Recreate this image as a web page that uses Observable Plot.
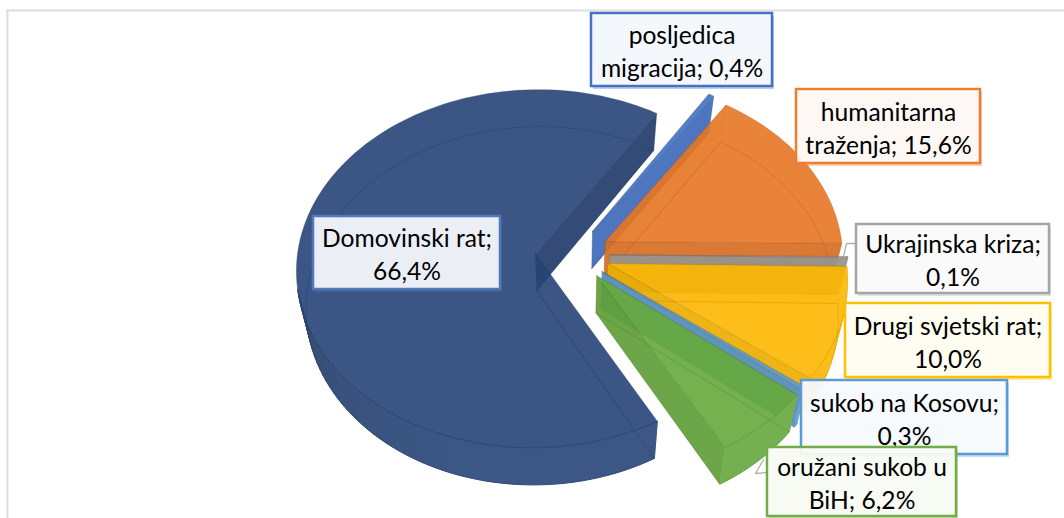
<!DOCTYPE html>
<html><head><meta charset="utf-8">
<script src="https://cdn.jsdelivr.net/npm/d3@7"></script>
<script src="https://cdn.jsdelivr.net/npm/@observablehq/plot@0.6"></script>
<style>
html,body{margin:0;padding:0;background:#fff;overflow:hidden}
g[aria-label="shadow"]{filter:blur(2.5px)}
</style></head><body><div id="chart"></div>
<script>
// Data, in the drawing order of the pie (clockwise)
const categories = ["Domovinski rat","posljedica migracija","humanitarna traženja","Ukrajinska kriza","Drugi svjetski rat","sukob na Kosovu","oružani sukob u BiH"];
const shares = [66.4,0.4,15.6,0.1,10.0,0.3,6.2];
const colors = ["#264478","#4472c4","#e57524","#a09c96","#fdb700","#5b9bd5","#67a83c"];
const labelLines = [["Domovinski rat;"],["posljedica","migracija;"],["humanitarna","traženja;"],["Ukrajinska kriza;"],["Drugi svjetski rat;"],["sukob na Kosovu;"],["oružani sukob u","BiH;"]];
const borderColors = ["#4f79bb","#4472c4","#ed7d31","#a5a5a5","#ffc000","#5b9bd5","#70ad47"];
// Label boxes [x1,y1,x2,y2], in the stacking order below
const labelOrder = [0,1,2,3,4,5,6];
const labelBoxes = [[313,216,500,289],[591,13,772,86],[796,89,980,163],[856,224,1049,293],[845,303,1050,377],[801,380,1007,454],[767,447,956,516]];

// 3D view
const view = {cx:572, cy:254, R:238, ry:178, k:0.084, h:37, bottomScale:0.965, explode:0.156, startDeg:150.9};
const rad = d => d*Math.PI/180;
function project(X,Y,level){
  const d = 1+view.k*Y, s = level ? view.bottomScale : 1;
  return {x:view.cx+view.R*s*X/d, y:view.cy-view.ry*Y/d+level*view.h};
}
const pie = d3.pie().value(d=>d).sort(null).startAngle(rad(view.startDeg)).endAngle(rad(view.startDeg)+2*Math.PI);
const arcs = pie(shares);

const rows=[]; let faceId=0;
function face(points,fill,fo,stroke,so,sw=0.8){
  const id=faceId++;
  [...points,points[0]].forEach(p=>rows.push({id,x:p.x,y:p.y,fill,fo,stroke,so,sw}));
}
const mix=(c,a)=>d3.interpolateRgb("#fff",c)(a);
arcs.forEach((a,i)=>{
  const base=colors[i], mid=(a.startAngle+a.endAngle)/2;
  const ox=view.explode*Math.sin(mid), oy=view.explode*Math.cos(mid);
  const at=(t,level)=>project(ox+Math.sin(t),oy+Math.cos(t),level);
  const apex=l=>project(ox,oy,l);
  const n=Math.max(2,Math.ceil((a.endAngle-a.startAngle)/rad(2)));
  const ts=d3.range(n+1).map(j=>a.startAngle+(a.endAngle-a.startAngle)*j/n);
  const side=d3.color(base).darker(i===0?0.35:0.18).formatHex();
  const edge=d3.color(base).darker(1.2).formatHex();
  // radial faces: the one turned to the viewer is solid, the other only shows through
  const hidden=i===0?0.02:0.12;
  const startVisible=Math.sin(a.startAngle)<0, endVisible=Math.sin(a.endAngle)>0;
  face([apex(0),at(a.startAngle,0),at(a.startAngle,1),apex(1)],side,startVisible?0.92:hidden,edge,0.3);
  face([apex(0),at(a.endAngle,0),at(a.endAngle,1),apex(1)],side,endVisible?0.92:hidden,edge,0.3);
  // outer wall, front part only
  for(let j=0;j<n;j++){
    const c=Math.cos((ts[j]+ts[j+1])/2);
    if(c>-0.2) continue;
    const deg=((ts[j]+ts[j+1])/2*180/Math.PI)%360;
    const t=Math.max(0,Math.min(1,(deg-190)/65));
    const sh=mix(d3.color(base).darker(0.02+0.6*t*t).formatHex(),0.9);
    face([at(ts[j],0),at(ts[j+1],0),at(ts[j+1],1),at(ts[j],1)],sh,1,sh,1,1);
  }
  // top face
  face([apex(0),...ts.map(t=>at(t,0))],base,0.9,edge,0.3);
  // bottom outline, seen through the top
  face([apex(1),...ts.map(t=>at(t,1))],base,0,edge,0.3);
});

const leaderRows=[
  ...[[856,243],[846,243],[843,256]].map(([x,y])=>({id:0,x,y})),
  ...[[767,472],[755,473],[763,459]].map(([x,y])=>({id:1,x,y}))
];
const boxes=labelOrder.map(i=>{
  const [x1,y1,x2,y2]=labelBoxes[i];
  const pct=shares[i].toFixed(1).replace(".",",")+"%";
  const lines=[...labelLines[i]];
  if(lines[lines.length-1].endsWith(";")&&lines.length>1) lines[lines.length-1]+=" "+pct; else lines.push(pct);
  return {x1,y1,x2,y2,color:borderColors[i],tint:d3.interpolateRgb("#fff",borderColors[i])(0.03),text:lines.join("\n")};
});

const plot=Plot.plot({
  width:1064,height:518,margin:0,
  style:{background:"#fff"},
  x:{domain:[0,1064],range:[0,1064],axis:null},
  y:{domain:[0,518],range:[0,518],axis:null},
  color:{type:"identity"},
  opacity:{type:"identity"},
  marks:[
    Plot.ruleY([10],{x1:6,x2:1064,stroke:"#dedede",strokeWidth:2}),
    Plot.ruleX([7],{y1:9,y2:518,stroke:"#dedede",strokeWidth:2}),
    Plot.line(rows,{x:"x",y:"y",z:"id",fill:"fill",fillOpacity:"fo",stroke:"stroke",strokeOpacity:"so",strokeWidth:"sw"}),
    Plot.line(leaderRows,{x:"x",y:"y",z:"id",stroke:"#b0b0b0",strokeWidth:1.3}),
    ...boxes.flatMap(b=>[
      Plot.rect([b],{x1:d=>d.x1+2,x2:d=>d.x2+2,y1:d=>d.y1+3,y2:d=>d.y2+3,fill:b.color,fillOpacity:0.35,ariaLabel:"shadow"}),
      Plot.rect([b],{x1:"x1",x2:"x2",y1:"y1",y2:"y2",fill:b.tint,fillOpacity:0.92,stroke:b.color,strokeWidth:2.5}),
      Plot.text([b],{x:d=>(d.x1+d.x2)/2,y:d=>(d.y1+d.y2)/2,text:"text",fontFamily:"Lato",fontSize:24.6,lineHeight:1.34,fill:"#000"})
    ])
  ]
});
document.getElementById("chart").appendChild(plot);
</script></body></html>
